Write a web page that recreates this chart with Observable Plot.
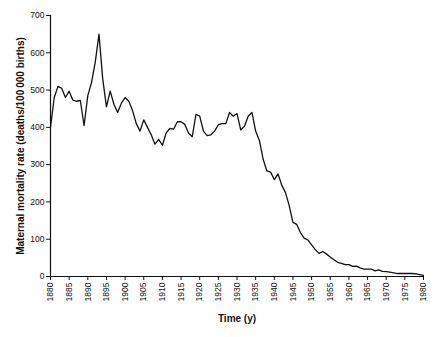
<!DOCTYPE html>
<html>
<head>
<meta charset="utf-8">
<script src="https://cdn.jsdelivr.net/npm/d3@7"></script>
<script src="https://cdn.jsdelivr.net/npm/@observablehq/plot@0.6"></script>
<style>
html, body { margin: 0; padding: 0; background: #fff; }
svg { font-family: "Liberation Sans", Arial, sans-serif; }
</style>
</head>
<body>
<div id="chart"></div>
<script>
const years = d3.range(1880, 1981);
const rates = [
  400, 480, 510, 505, 480, 497, 473, 470, 472, 405,
  485, 520, 575, 650, 530, 455, 497, 462, 440, 465,
  480, 470, 445, 410, 390, 420, 400, 380, 355, 368,
  352, 385, 397, 395, 415, 415, 408, 385, 375, 435,
  430, 390, 378, 380, 390, 407, 410, 410, 440, 430,
  437, 393, 403, 430, 440, 390, 365, 315, 283, 280,
  260, 275, 245, 225, 190, 145, 140, 118, 103, 98,
  85, 72, 62, 67, 60, 52, 45, 38, 35, 32,
  32, 27, 28, 23, 20, 20, 20, 15, 18, 14,
  13, 12, 10, 8, 8, 8, 8, 8, 7, 5,
  3
];
const xTicks = d3.range(1880, 1981, 5);
const yTicks = [0, 100, 200, 300, 400, 500, 600, 700];
const data = years.map((y, i) => ({year: y, rate: rates[i]}));

const chart = Plot.plot({
  width: 440,
  height: 337,
  marginLeft: 50,
  marginRight: 17,
  marginTop: 15,
  marginBottom: 61,
  style: {fontSize: "8.5px", fontFamily: "Liberation Sans, Arial, sans-serif", color: "#111"},
  x: {domain: [1880, 1980]},
  y: {domain: [0, 700]},
  marks: [
    Plot.axisX({ticks: xTicks, tickFormat: d => String(d), tickRotate: -90, tickSize: 4, tickPadding: 2, label: null}),
    Plot.axisY({ticks: yTicks, tickSize: 4, tickPadding: 2, label: null}),
    Plot.ruleY([0], {stroke: "#111", strokeWidth: 1.2}),
    Plot.ruleX([1880], {stroke: "#111", strokeWidth: 1.2}),
    Plot.line(data, {x: "year", y: "rate", stroke: "#111", strokeWidth: 1.3}),
    Plot.text(["Time (y)"], {frameAnchor: "bottom", dy: 38, fontWeight: "bold", fontSize: 10, lineAnchor: "top", text: d => d}),
    Plot.text(["Maternal mortality rate (deaths/100\u2009000 births)"], {frameAnchor: "left", dx: -30, rotate: -90, fontWeight: "bold", fontSize: 10, textAnchor: "middle", text: d => d})
  ]
});
document.getElementById("chart").appendChild(chart);
</script>
</body>
</html>
